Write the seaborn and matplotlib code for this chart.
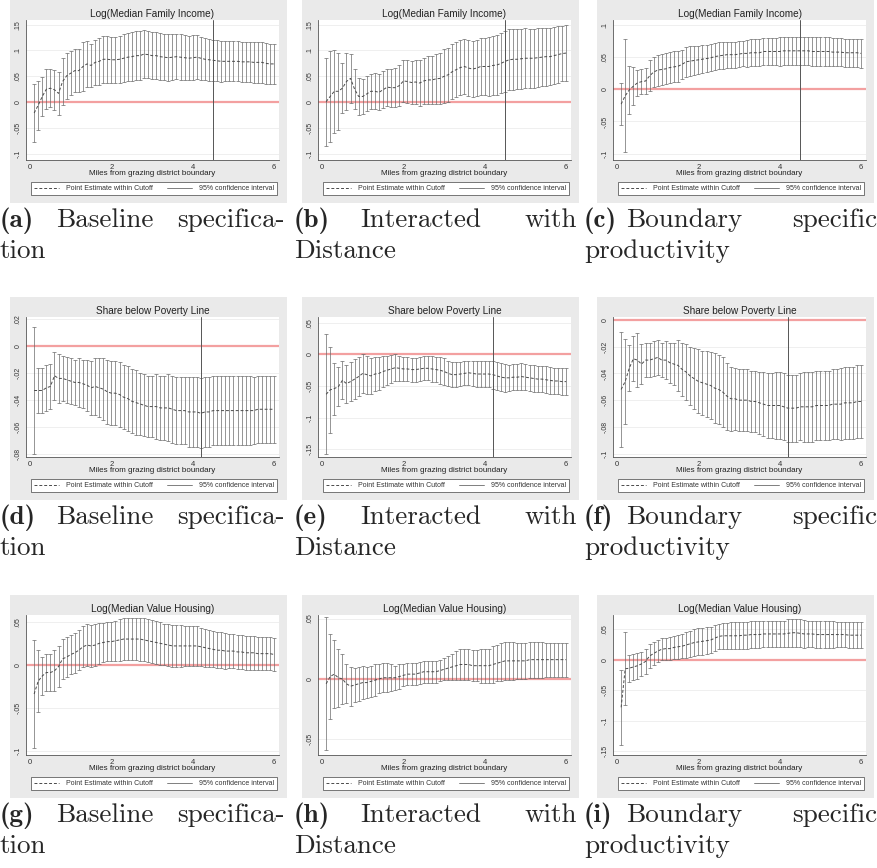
import numpy as np
import matplotlib
matplotlib.use("Agg")
import matplotlib.pyplot as plt
from matplotlib.lines import Line2D
from matplotlib.patches import Rectangle
from matplotlib.ticker import FixedLocator, FuncFormatter
import seaborn as sns

# Distance grid (miles from the grazing district boundary)
miles = np.round(np.arange(1, 61) * 0.1, 1)

# ---- Log(Median Family Income) ----
est_a = [-0.021, -0.006, 0.011, 0.025, 0.027, 0.024, 0.017, 0.040, 0.051, 0.056,
         0.061, 0.061, 0.069, 0.074, 0.071, 0.077, 0.079, 0.083, 0.083, 0.082,
         0.082, 0.083, 0.085, 0.087, 0.088, 0.090, 0.090, 0.093, 0.092, 0.090,
         0.090, 0.088, 0.087, 0.086, 0.087, 0.088, 0.087, 0.086, 0.085, 0.086,
         0.087, 0.085, 0.083, 0.082, 0.081, 0.080, 0.079, 0.079, 0.079, 0.079,
         0.079, 0.078, 0.078, 0.078, 0.077, 0.077, 0.077, 0.075, 0.074, 0.074]
hw_a = [0.057, 0.047, 0.037, 0.039, 0.037, 0.039, 0.042, 0.045, 0.044, 0.043,
        0.042, 0.042, 0.047, 0.045, 0.041, 0.044, 0.045, 0.045, 0.045, 0.044,
        0.045, 0.045, 0.046, 0.046, 0.047, 0.047, 0.047, 0.047, 0.046, 0.046,
        0.046, 0.046, 0.045, 0.045, 0.045, 0.044, 0.044, 0.044, 0.043, 0.043,
        0.043, 0.042, 0.041, 0.041, 0.040, 0.040, 0.040, 0.039, 0.039, 0.039,
        0.039, 0.039, 0.039, 0.039, 0.039, 0.039, 0.039, 0.039, 0.039, 0.039]

est_b = [0.001, 0.011, 0.021, 0.021, 0.027, 0.040, 0.046, 0.025, 0.011, 0.011,
         0.016, 0.021, 0.021, 0.019, 0.024, 0.029, 0.028, 0.028, 0.032, 0.041,
         0.040, 0.038, 0.039, 0.037, 0.041, 0.043, 0.043, 0.045, 0.046, 0.050,
         0.053, 0.059, 0.063, 0.067, 0.069, 0.066, 0.064, 0.066, 0.069, 0.069,
         0.069, 0.071, 0.072, 0.075, 0.079, 0.082, 0.083, 0.083, 0.084, 0.085,
         0.085, 0.085, 0.086, 0.087, 0.088, 0.088, 0.090, 0.092, 0.094, 0.095]
hw_b = [0.085, 0.088, 0.080, 0.074, 0.048, 0.055, 0.048, 0.039, 0.035, 0.034,
        0.034, 0.034, 0.035, 0.035, 0.036, 0.036, 0.037, 0.038, 0.039, 0.040,
        0.041, 0.042, 0.043, 0.044, 0.045, 0.046, 0.047, 0.048, 0.050, 0.052,
        0.052, 0.053, 0.053, 0.054, 0.054, 0.055, 0.055, 0.055, 0.056, 0.056,
        0.057, 0.057, 0.058, 0.058, 0.059, 0.059, 0.059, 0.058, 0.058, 0.058,
        0.057, 0.057, 0.057, 0.056, 0.056, 0.055, 0.055, 0.055, 0.054, 0.054]

est_c = [-0.023, -0.010, -0.001, 0.005, 0.010, 0.012, 0.013, 0.021, 0.027, 0.030,
         0.031, 0.032, 0.034, 0.035, 0.036, 0.039, 0.043, 0.044, 0.045, 0.046,
         0.047, 0.048, 0.049, 0.051, 0.052, 0.053, 0.054, 0.054, 0.054, 0.055,
         0.056, 0.056, 0.057, 0.057, 0.057, 0.059, 0.059, 0.059, 0.059, 0.059,
         0.060, 0.060, 0.060, 0.060, 0.060, 0.060, 0.060, 0.059, 0.059, 0.059,
         0.059, 0.059, 0.058, 0.058, 0.058, 0.057, 0.057, 0.057, 0.057, 0.056]
hw_c = [0.033, 0.088, 0.038, 0.030, 0.020, 0.019, 0.021, 0.024, 0.024, 0.024,
        0.024, 0.024, 0.024, 0.024, 0.024, 0.023, 0.023, 0.023, 0.022, 0.022,
        0.022, 0.021, 0.021, 0.021, 0.021, 0.021, 0.020, 0.020, 0.020, 0.020,
        0.020, 0.021, 0.021, 0.021, 0.021, 0.021, 0.021, 0.021, 0.021, 0.022,
        0.022, 0.022, 0.022, 0.022, 0.022, 0.022, 0.022, 0.022, 0.022, 0.022,
        0.022, 0.022, 0.022, 0.022, 0.022, 0.022, 0.022, 0.022, 0.022, 0.022]

# ---- Share below Poverty Line ----
est_d = [-0.033, -0.033, -0.033, -0.031, -0.030, -0.022, -0.024, -0.024, -0.025, -0.026,
         -0.027, -0.027, -0.028, -0.029, -0.031, -0.030, -0.031, -0.032, -0.034, -0.035,
         -0.035, -0.036, -0.038, -0.039, -0.041, -0.042, -0.043, -0.044, -0.045, -0.045,
         -0.045, -0.046, -0.046, -0.046, -0.047, -0.048, -0.048, -0.048, -0.049, -0.049,
         -0.049, -0.050, -0.049, -0.049, -0.048, -0.048, -0.048, -0.048, -0.048, -0.048,
         -0.048, -0.048, -0.048, -0.048, -0.048, -0.047, -0.047, -0.047, -0.047, -0.047]
hw_d = [0.047, 0.017, 0.017, 0.017, 0.017, 0.018, 0.018, 0.017, 0.017, 0.017,
        0.017, 0.018, 0.018, 0.019, 0.020, 0.021, 0.022, 0.023, 0.024, 0.024,
        0.024, 0.024, 0.024, 0.024, 0.024, 0.024, 0.023, 0.023, 0.023, 0.023,
        0.024, 0.024, 0.024, 0.025, 0.025, 0.025, 0.025, 0.025, 0.026, 0.026,
        0.026, 0.026, 0.026, 0.026, 0.026, 0.026, 0.026, 0.026, 0.026, 0.026,
        0.026, 0.026, 0.026, 0.026, 0.025, 0.025, 0.025, 0.025, 0.025, 0.025]

est_e = [-0.063, -0.056, -0.054, -0.051, -0.041, -0.046, -0.043, -0.039, -0.035, -0.030,
         -0.032, -0.034, -0.031, -0.030, -0.027, -0.025, -0.023, -0.021, -0.022, -0.023,
         -0.023, -0.024, -0.024, -0.023, -0.022, -0.022, -0.023, -0.024, -0.025, -0.027,
         -0.030, -0.032, -0.032, -0.031, -0.030, -0.029, -0.030, -0.031, -0.031, -0.031,
         -0.031, -0.032, -0.034, -0.036, -0.037, -0.037, -0.036, -0.036, -0.035, -0.036,
         -0.037, -0.038, -0.039, -0.039, -0.040, -0.041, -0.042, -0.042, -0.043, -0.043]
hw_e = [0.095, 0.068, 0.041, 0.031, 0.030, 0.030, 0.031, 0.031, 0.031, 0.031,
        0.030, 0.029, 0.027, 0.026, 0.024, 0.023, 0.022, 0.021, 0.020, 0.019,
        0.019, 0.019, 0.019, 0.019, 0.019, 0.019, 0.020, 0.020, 0.021, 0.021,
        0.020, 0.020, 0.020, 0.019, 0.019, 0.019, 0.020, 0.020, 0.021, 0.021,
        0.021, 0.022, 0.022, 0.022, 0.022, 0.021, 0.021, 0.021, 0.021, 0.021,
        0.021, 0.021, 0.021, 0.021, 0.021, 0.021, 0.021, 0.021, 0.021, 0.021]

est_f = [-0.052, -0.046, -0.036, -0.029, -0.030, -0.033, -0.030, -0.030, -0.029, -0.028,
         -0.030, -0.030, -0.032, -0.033, -0.034, -0.037, -0.039, -0.042, -0.044, -0.046,
         -0.047, -0.048, -0.049, -0.051, -0.052, -0.054, -0.057, -0.059, -0.059, -0.060,
         -0.060, -0.060, -0.061, -0.061, -0.062, -0.063, -0.064, -0.064, -0.064, -0.064,
         -0.065, -0.066, -0.066, -0.066, -0.065, -0.065, -0.065, -0.065, -0.064, -0.064,
         -0.064, -0.064, -0.063, -0.063, -0.063, -0.062, -0.062, -0.062, -0.061, -0.061]
hw_f = [0.043, 0.032, 0.017, 0.017, 0.020, 0.015, 0.013, 0.013, 0.013, 0.013,
        0.013, 0.014, 0.015, 0.016, 0.019, 0.020, 0.021, 0.022, 0.023, 0.024,
        0.024, 0.025, 0.025, 0.026, 0.026, 0.026, 0.025, 0.024, 0.023, 0.023,
        0.023, 0.023, 0.023, 0.023, 0.023, 0.024, 0.024, 0.024, 0.025, 0.025,
        0.025, 0.025, 0.025, 0.025, 0.025, 0.026, 0.026, 0.026, 0.026, 0.026,
        0.026, 0.026, 0.026, 0.026, 0.027, 0.027, 0.027, 0.027, 0.027, 0.027]

# ---- Log(Median Value Housing) ----
est_g = [-0.034, -0.019, -0.013, -0.009, -0.009, -0.007, -0.002, 0.007, 0.009, 0.012,
         0.014, 0.017, 0.021, 0.023, 0.022, 0.023, 0.025, 0.026, 0.027, 0.027,
         0.028, 0.029, 0.030, 0.030, 0.030, 0.030, 0.030, 0.029, 0.028, 0.027,
         0.026, 0.025, 0.024, 0.023, 0.022, 0.022, 0.022, 0.022, 0.022, 0.022,
         0.022, 0.021, 0.020, 0.019, 0.018, 0.017, 0.017, 0.016, 0.016, 0.016,
         0.015, 0.015, 0.014, 0.014, 0.014, 0.013, 0.013, 0.013, 0.013, 0.012]
hw_g = [0.063, 0.036, 0.022, 0.022, 0.022, 0.024, 0.024, 0.023, 0.023, 0.023,
        0.023, 0.023, 0.024, 0.024, 0.024, 0.024, 0.024, 0.023, 0.023, 0.023,
        0.023, 0.024, 0.024, 0.024, 0.024, 0.024, 0.025, 0.025, 0.025, 0.025,
        0.025, 0.025, 0.024, 0.024, 0.024, 0.024, 0.024, 0.023, 0.023, 0.023,
        0.023, 0.022, 0.022, 0.022, 0.021, 0.021, 0.021, 0.021, 0.020, 0.020,
        0.020, 0.020, 0.020, 0.020, 0.020, 0.019, 0.019, 0.019, 0.019, 0.019]

est_h = [-0.004, 0.002, 0.004, 0.001, 0.000, -0.004, -0.006, -0.005, -0.004, -0.003,
         -0.003, -0.002, -0.001, 0.000, 0.001, 0.001, 0.001, 0.001, 0.002, 0.003,
         0.004, 0.004, 0.004, 0.005, 0.006, 0.006, 0.006, 0.006, 0.007, 0.008,
         0.009, 0.010, 0.011, 0.012, 0.012, 0.012, 0.011, 0.011, 0.011, 0.011,
         0.011, 0.012, 0.013, 0.014, 0.015, 0.015, 0.015, 0.015, 0.015, 0.015,
         0.016, 0.016, 0.016, 0.016, 0.016, 0.016, 0.016, 0.016, 0.016, 0.016]
hw_h = [0.055, 0.035, 0.028, 0.024, 0.021, 0.016, 0.016, 0.014, 0.014, 0.014,
        0.013, 0.013, 0.013, 0.012, 0.012, 0.012, 0.011, 0.010, 0.010, 0.009,
        0.009, 0.009, 0.009, 0.009, 0.009, 0.009, 0.009, 0.009, 0.009, 0.009,
        0.010, 0.011, 0.012, 0.013, 0.013, 0.013, 0.013, 0.013, 0.014, 0.014,
        0.014, 0.015, 0.015, 0.016, 0.016, 0.016, 0.016, 0.015, 0.015, 0.015,
        0.015, 0.015, 0.015, 0.015, 0.014, 0.014, 0.014, 0.014, 0.014, 0.014]

est_i = [-0.078, -0.015, -0.014, -0.012, -0.010, -0.007, -0.003, 0.006, 0.010, 0.014,
         0.017, 0.018, 0.018, 0.020, 0.021, 0.022, 0.024, 0.026, 0.028, 0.029,
         0.030, 0.031, 0.032, 0.035, 0.038, 0.039, 0.039, 0.039, 0.039, 0.039,
         0.040, 0.040, 0.041, 0.041, 0.041, 0.042, 0.042, 0.042, 0.042, 0.042,
         0.042, 0.043, 0.044, 0.044, 0.043, 0.042, 0.042, 0.042, 0.041, 0.041,
         0.041, 0.041, 0.041, 0.041, 0.041, 0.041, 0.040, 0.040, 0.040, 0.040]
hw_i = [0.061, 0.060, 0.022, 0.021, 0.021, 0.020, 0.020, 0.019, 0.019, 0.018,
        0.018, 0.018, 0.019, 0.019, 0.020, 0.020, 0.021, 0.021, 0.022, 0.022,
        0.022, 0.022, 0.021, 0.021, 0.021, 0.021, 0.021, 0.022, 0.022, 0.022,
        0.022, 0.022, 0.022, 0.022, 0.022, 0.022, 0.022, 0.022, 0.022, 0.022,
        0.022, 0.023, 0.023, 0.023, 0.023, 0.023, 0.022, 0.022, 0.022, 0.022,
        0.022, 0.022, 0.022, 0.021, 0.021, 0.021, 0.021, 0.021, 0.021, 0.021]

titles = ["Log(Median Family Income)", "Share below Poverty Line", "Log(Median Value Housing)"]
yticks = {
    "a": [-0.1, -0.05, 0, 0.05, 0.1, 0.15],
    "b": [-0.1, -0.05, 0, 0.05, 0.1, 0.15],
    "c": [-0.1, -0.05, 0, 0.05, 0.1],
    "d": [-0.08, -0.06, -0.04, -0.02, 0, 0.02],
    "e": [-0.15, -0.1, -0.05, 0, 0.05],
    "f": [-0.1, -0.08, -0.06, -0.04, -0.02, 0],
    "g": [-0.1, -0.05, 0, 0.05],
    "h": [-0.05, 0, 0.05],
    "i": [-0.15, -0.1, -0.05, 0, 0.05],
}
cutoffs = [4.5, 4.2, None]
caption_label = ["(a)", "(b)", "(c)", "(d)", "(e)", "(f)", "(g)", "(h)", "(i)"]
caption_words = [("Baseline", "specifica-", "tion"),
                 ("Interacted", "with", "Distance"),
                 ("Boundary", "specific", "productivity")]
legend_labels = ["Point Estimate within Cutoff", "95% confidence interval"]

panels = [
    ("a", est_a, hw_a, (-0.112, 0.159)), ("b", est_b, hw_b, (-0.112, 0.159)),
    ("c", est_c, hw_c, (-0.110, 0.108)), ("d", est_d, hw_d, (-0.0826, 0.0218)),
    ("e", est_e, hw_e, (-0.162, 0.059)), ("f", est_f, hw_f, (-0.1026, 0.0023)),
    ("g", est_g, hw_g, (-0.105, 0.058)), ("h", est_h, hw_h, (-0.063, 0.053)),
    ("i", est_i, hw_i, (-0.156, 0.073)),
]

sns.set_theme(style="white")
plt.rcParams["font.family"] = ["Liberation Sans", "DejaVu Sans"]

W, H = 877, 868
fig = plt.figure(figsize=(W / 100, H / 100), dpi=100, facecolor="white")


def fx(px):
    return px / W


def fy(py):
    return 1 - py / H


def stata_fmt(v, _pos=None):
    if abs(v) < 1e-12:
        return "0"
    s = f"{v:g}"
    return s.replace("0.", ".")


col_left = [10, 302, 597]
row_top = [0, 297, 595]
cap_left = [0, 294, 584]
cap_right = [285, 577, 877]
cap_mid = [56, 360, 626]
cap_base = [227, 524, 822]
CAP_SIZE = 19.5

for k, (key, est, hw, ylim) in enumerate(panels):
    r, c = divmod(k, 3)
    gl, top = col_left[c], row_top[r]

    # grey graph region behind each panel
    fig.patches.append(Rectangle((fx(gl), fy(top + 203)), 277 / W, 203 / H,
                                 transform=fig.transFigure, facecolor="#EAEAEA",
                                 edgecolor="none", zorder=-5))
    ax = fig.add_axes([fx(gl + 16), fy(top + 160), 253 / W, 140 / H])
    ax.set_zorder(2)
    ax.set_facecolor("white")

    ax.axhline(0, color="#F3A0A0", lw=1.6, zorder=1.5)
    ax.errorbar(miles, est, yerr=hw, fmt="none", ecolor="#6A6A6A",
                elinewidth=0.5, capsize=1.1, capthick=0.5, zorder=2)
    sns.lineplot(x=miles, y=est, ax=ax, color="#4A4A4A", lw=0.7,
                 linestyle=(0, (3, 2)), zorder=3)
    if cutoffs[r] is not None:
        ax.axvline(cutoffs[r], color="#555555", lw=0.7, zorder=3)

    ax.set_xlim(-0.1, 6.12)
    ax.set_ylim(*ylim)
    ax.xaxis.set_major_locator(FixedLocator([0, 2, 4, 6]))
    ax.yaxis.set_major_locator(FixedLocator(yticks[key]))
    ax.yaxis.set_major_formatter(FuncFormatter(stata_fmt))
    ax.yaxis.grid(True, color="#EDEDED", lw=0.6)
    ax.set_axisbelow(True)
    for side in ("top", "right"):
        ax.spines[side].set_visible(False)
    for side in ("left", "bottom"):
        ax.spines[side].set_color("#555555")
        ax.spines[side].set_linewidth(0.6)
    ax.tick_params(axis="both", direction="out", length=2, width=0.5,
                   color="#555555", pad=1, labelcolor="#333333")
    ax.tick_params(axis="x", labelsize=5.5)
    ax.tick_params(axis="y", labelsize=5, labelrotation=90)
    for lab in ax.get_yticklabels():
        lab.set_va("center")

    ax.set_title(titles[r], fontsize=7.2, pad=2, color="#222222")
    ax.set_xlabel("Miles from grazing district boundary", fontsize=5.8,
                  labelpad=-0.5, color="#222222")
    ax.set_ylabel("")

    handles = [Line2D([], [], color="#4A4A4A", lw=0.7, linestyle=(0, (3, 2))),
               Line2D([], [], color="#6A6A6A", lw=0.6)]
    leg = ax.legend(handles, legend_labels, loc="upper left",
                    bbox_to_anchor=(0.02, -0.27, 0.972, 0.112), mode="expand",
                    ncol=2, fontsize=5.0, frameon=True, fancybox=False,
                    edgecolor="#444444", framealpha=1, borderaxespad=0,
                    handlelength=3.6, handletextpad=1.0, borderpad=0.45,
                    columnspacing=2.2)
    leg.get_frame().set_linewidth(0.5)
    for t in leg.get_texts():
        t.set_color("#333333")

    # sub-figure caption
    words = caption_words[c]
    b1 = cap_base[r]
    fig.text(fx(cap_left[c]), fy(b1), caption_label[k], family="cmb10",
             fontsize=CAP_SIZE, va="baseline", ha="left")
    fig.text(fx(cap_mid[c]), fy(b1), words[0], family="cmr10",
             fontsize=CAP_SIZE, va="baseline", ha="left")
    fig.text(fx(cap_right[c]), fy(b1), words[1], family="cmr10",
             fontsize=CAP_SIZE, va="baseline", ha="right")
    fig.text(fx(cap_left[c]), fy(b1 + 31), words[2], family="cmr10",
             fontsize=CAP_SIZE, va="baseline", ha="left")

fig.savefig("out.png", dpi=100, facecolor="white")
